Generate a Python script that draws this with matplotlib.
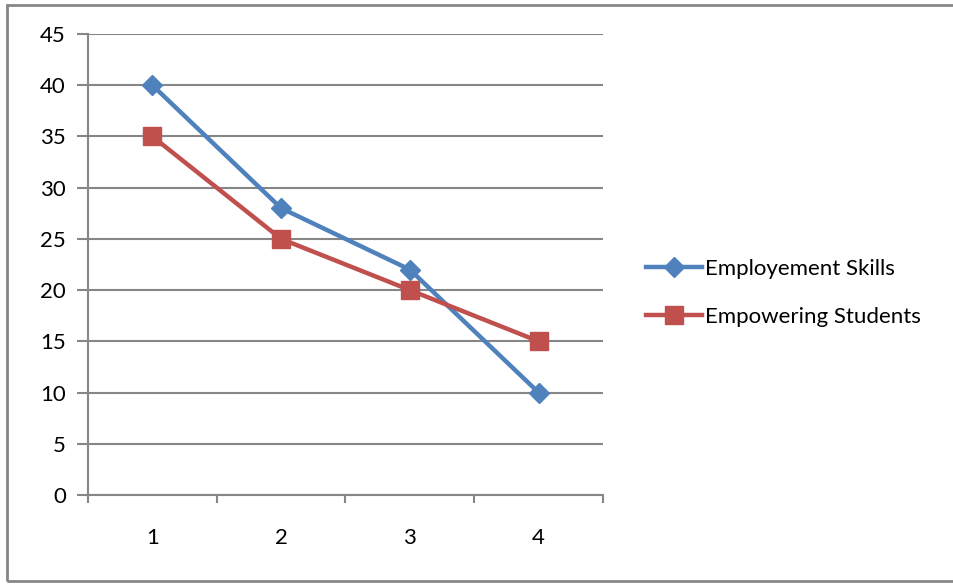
import matplotlib.pyplot as plt
from matplotlib.patches import Rectangle

plt.rcParams['font.family'] = ['Lato', 'DejaVu Sans']

categories = [1, 2, 3, 4]
employment = [40, 28, 22, 10]
empowering = [35, 25, 20, 15]
labels = ["Employement Skills", "Empowering Students"]

blue = "#4F81BD"
red = "#C0504D"
grey = "#868686"
fs = 16

fig = plt.figure(figsize=(9.54, 5.84), dpi=100)
ax = fig.add_axes([88/954, 89/584, 515/954, 461/584])

x = list(range(len(categories)))
ax.plot(x, employment, color=blue, lw=3.2, marker="D", markersize=10,
        label=labels[0], zorder=3)
ax.plot(x, empowering, color=red, lw=3.2, marker="s", markersize=13,
        label=labels[1], zorder=3)

ax.set_xlim(-0.5, 3.5)
ax.set_ylim(0, 45)
ax.set_yticks(range(0, 50, 5))
ax.set_xticks(x)
ax.set_xticklabels([str(c) for c in categories])
ax.set_xticks([-0.5, 0.5, 1.5, 2.5, 3.5], minor=True)
ax.tick_params(axis='x', which='major', length=0, pad=24, labelsize=fs)
ax.tick_params(axis='x', which='minor', length=6, width=1.5, color=grey)
ax.tick_params(axis='y', length=8, width=1.5, color=grey, pad=8, labelsize=fs)
ax.grid(axis='y', color=grey, lw=1.5)
ax.set_axisbelow(True)
for s in ['top', 'right']:
    ax.spines[s].set_visible(False)
for s in ['left', 'bottom']:
    ax.spines[s].set_color(grey)
    ax.spines[s].set_linewidth(1.5)

fig.legend(loc='center left', bbox_to_anchor=(626/954, (584-293)/584),
           frameon=False, fontsize=fs, handlelength=2.5,
           handletextpad=0.15, labelspacing=1.25)

# outer chart border
fig.patches.append(Rectangle((7/954, 3/584), 1.0, 576/584, transform=fig.transFigure,
                             fill=False, edgecolor=grey, lw=2))

fig.savefig("out.png", dpi=100)
